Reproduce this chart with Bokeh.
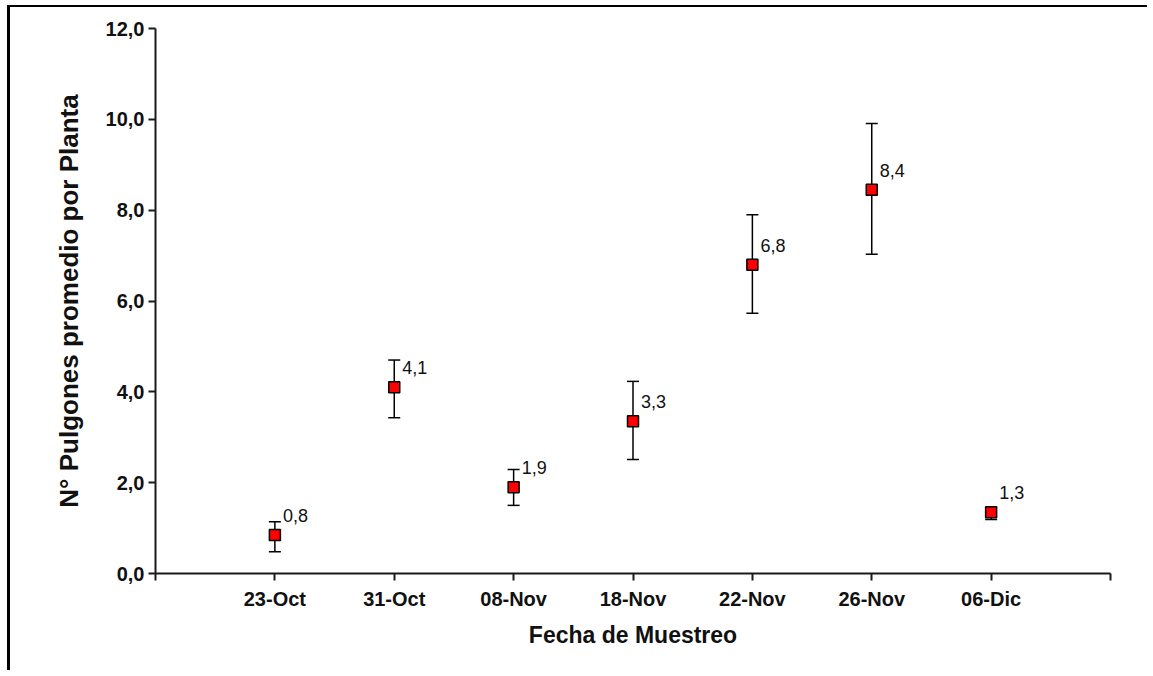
from bokeh.plotting import figure
from bokeh.models import ColumnDataSource, Range1d, FixedTicker, Whisker, TeeHead, LabelSet
from bokeh.embed import file_html
from bokeh.resources import INLINE
from bokeh.core.properties import value

# ---- data ----
fechas = ["23-Oct", "31-Oct", "08-Nov", "18-Nov", "22-Nov", "26-Nov", "06-Dic"]
promedio = [0.85, 4.1, 1.9, 3.35, 6.8, 8.45, 1.35]
error_inf = [0.48, 3.43, 1.5, 2.51, 5.73, 7.03, 1.19]
error_sup = [1.14, 4.7, 2.29, 4.23, 7.9, 9.91, 1.45]
etiquetas = ["0,8", "4,1", "1,9", "3,3", "6,8", "8,4", "1,3"]
y_ticks = [0, 2, 4, 6, 8, 10, 12]
y_tick_labels = ["0,0", "2,0", "4,0", "6,0", "8,0", "10,0", "12,0"]

pos = list(range(1, len(fechas) + 1))
src = ColumnDataSource(dict(x=pos, y=promedio, lo=error_inf, hi=error_sup, lab=etiquetas))

W, H = 1140, 665
p = figure(width=W, height=H, output_backend="svg", toolbar_location=None,
           x_range=Range1d(0, len(fechas) + 1), y_range=Range1d(0, 12),
           min_border_left=145, min_border_right=40, min_border_top=21, min_border_bottom=99)
p.styles = {"border-left": "3px solid black", "border-top": "2px solid black",
            "margin-left": "7px", "margin-top": "5px"}
p.outline_line_color = None
p.xgrid.visible = False
p.ygrid.visible = False
p.background_fill_color = "white"
p.border_fill_color = "white"

FONT = "Liberation Sans"
AX = "#1a1a1a"

# x axis
p.xaxis.ticker = FixedTicker(ticks=list(range(0, len(fechas) + 2)))
ov = {0: "", len(fechas) + 1: ""}
for i, f in zip(pos, fechas):
    ov[i] = f
p.xaxis.major_label_overrides = ov
p.xaxis.axis_label = "Fecha de Muestreo"
# y axis
p.yaxis.ticker = FixedTicker(ticks=y_ticks)
p.yaxis.major_label_overrides = {t: l for t, l in zip(y_ticks, y_tick_labels)}
p.yaxis.axis_label = "N° Pulgones promedio por Planta"

for ax in (p.xaxis, p.yaxis):
    ax.axis_line_color = AX
    ax.axis_line_width = 2
    ax.major_tick_line_color = AX
    ax.major_tick_line_width = 2
    ax.major_tick_out = 7
    ax.major_tick_in = 0
    ax.minor_tick_line_color = None
    ax.major_label_text_font = FONT
    ax.major_label_text_font_style = "bold"
    ax.major_label_text_font_size = "20px"
    ax.major_label_text_color = "#111111"
    ax.axis_label_text_font = FONT
    ax.axis_label_text_font_style = "bold"
    ax.axis_label_text_color = "#111111"

p.xaxis.major_label_standoff = 7
p.yaxis.major_label_standoff = 4
p.xaxis.axis_label_text_font_size = "23px"
p.yaxis.axis_label_text_font_size = "26px"
p.xaxis.axis_label_standoff = 9
p.yaxis.axis_label_standoff = 19

# error bars
w = Whisker(source=src, base="x", lower="lo", upper="hi", line_color="black", line_width=1.5,
            lower_head=TeeHead(size=12, line_color="black", line_width=1.5),
            upper_head=TeeHead(size=12, line_color="black", line_width=1.5))
p.add_layout(w)

# markers
p.scatter("x", "y", source=src, marker="square", size=11, fill_color="#FF0000",
          line_color="black", line_width=1.5)

# data labels
labels = LabelSet(x="x", y="y", text="lab", source=src, x_offset=8, y_offset=13,
                  text_align="left", text_baseline="bottom", text_font=value(FONT),
                  text_font_size="18px", text_color="#111111")
p.add_layout(labels)

open("out.html", "w").write(file_html(p, INLINE))
